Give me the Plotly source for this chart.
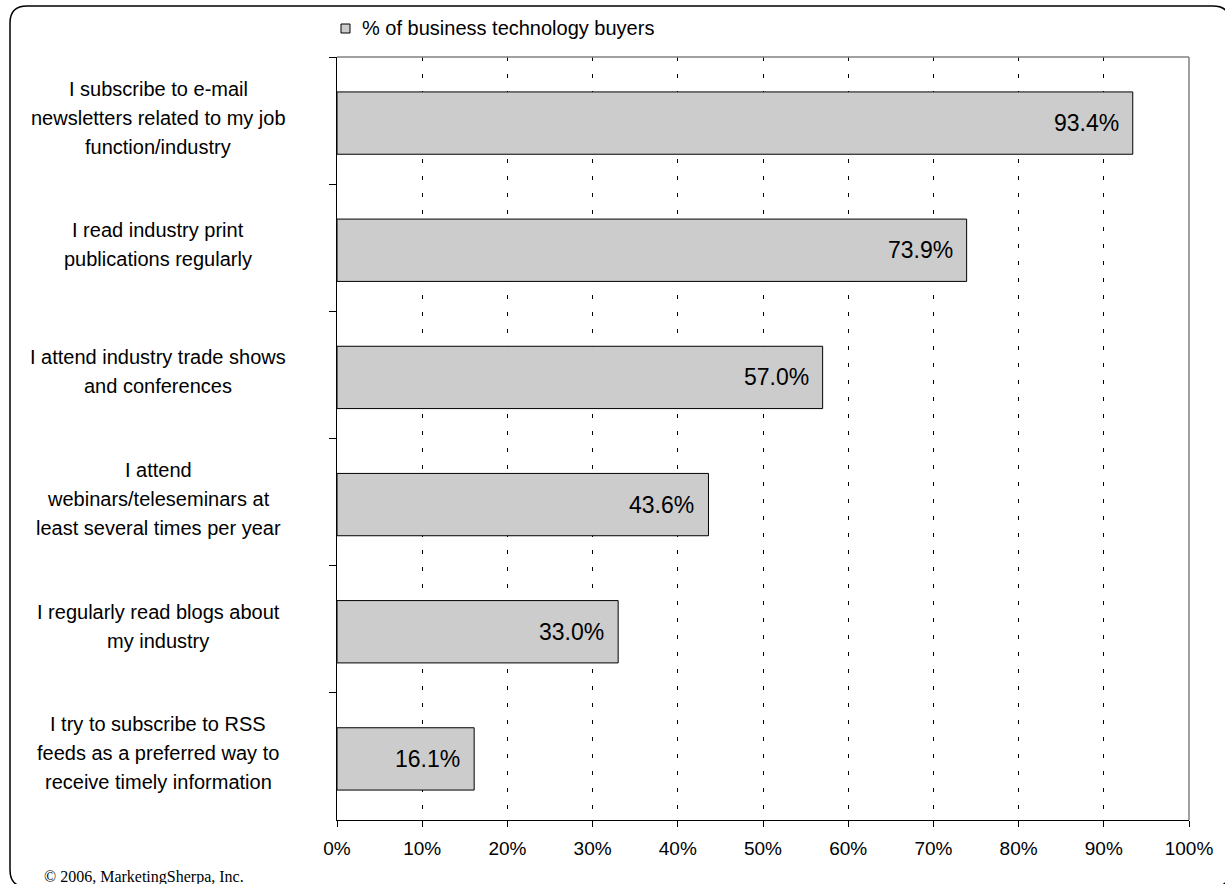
import plotly.graph_objects as go

# Survey answers (top to bottom) and share of respondents, in percent
categories = [
    "I subscribe to e-mail|newsletters related to my job|function/industry",
    "I read industry print|publications regularly",
    "I attend industry trade shows|and conferences",
    "I attend|webinars/teleseminars at|least several times per year",
    "I regularly read blogs about|my industry",
    "I try to subscribe to RSS|feeds as a preferred way to|receive timely information",
]
values = [93.4, 73.9, 57.0, 43.6, 33.0, 16.1]
series_name = "% of business technology buyers"
x_ticks = list(range(0, 101, 10))
credit = "\u00a9 2006, MarketingSherpa, Inc."

W, H = 1225, 884
L, R, T, B = 337, 36, 57, 64
PW, PH = W - L - R, H - T - B
FONT = "Liberation Sans, Arial, sans-serif"


def px(x):
    return (x - L) / PW


def py(y):
    return (H - B - y) / PH


BAR_W = 0.49
SLOT = PH / len(categories)
NUDGE = 2.5  # bars sit slightly below slot centre

fig = go.Figure()
fig.add_trace(go.Bar(
    x=values,
    y=categories,
    orientation="h",
    width=BAR_W,
    offset=-BAR_W / 2 + NUDGE / SLOT,
    marker=dict(color="#cccccc", line=dict(color="#000000", width=1)),
    name=series_name,
    showlegend=False,
    hoverinfo="skip",
))

annotations = []
# value labels inside the bar ends
for c, v in zip(categories, values):
    annotations.append(dict(
        x=v, y=c, xref="x", yref="y", text=f"{v:.1f}%", showarrow=False,
        xanchor="right", yanchor="middle", xshift=-12, yshift=-NUDGE,
        font=dict(family=FONT, size=23, color="#000000"),
    ))

# centred, multi-line category labels
LINE = 29
for c in categories:
    lines = c.split("|")
    n = len(lines)
    for i, ln in enumerate(lines):
        annotations.append(dict(
            x=px(158), y=c, xref="paper", yref="y", text=ln, showarrow=False,
            xanchor="center", yanchor="middle",
            yshift=((n - 1) / 2 - i) * LINE + 3,
            font=dict(family=FONT, size=20, color="#000000"),
        ))

# legend entry
annotations.append(dict(
    x=px(360), y=py(28), xref="paper", yref="paper", text=series_name,
    showarrow=False, xanchor="left", yanchor="middle",
    font=dict(family=FONT, size=20, color="#000000"),
))
# credit line
annotations.append(dict(
    x=px(42), y=py(877), xref="paper", yref="paper", text=credit,
    showarrow=False, xanchor="left", yanchor="middle",
    font=dict(family="Liberation Serif, Times New Roman, serif", size=16, color="#000000"),
))

# rounded outer frame
fl, ft, fr, fb, rad = 10, 6, 1230, 887, 17
path = (
    f"M {px(fl)},{py(ft + rad)} "
    f"Q {px(fl)},{py(ft)} {px(fl + rad)},{py(ft)} "
    f"L {px(fr - rad)},{py(ft)} "
    f"Q {px(fr)},{py(ft)} {px(fr)},{py(ft + rad)} "
    f"L {px(fr)},{py(fb - rad)} "
    f"Q {px(fr)},{py(fb)} {px(fr - rad)},{py(fb)} "
    f"L {px(fl + rad)},{py(fb)} "
    f"Q {px(fl)},{py(fb)} {px(fl)},{py(fb - rad)} Z"
)

shapes = [
    dict(type="path", path=path, xref="paper", yref="paper",
         line=dict(color="#000000", width=1.5), layer="below"),
    # grey plot-area border at top and right
    dict(type="line", xref="paper", yref="paper", x0=0, x1=1, y0=1, y1=1,
         line=dict(color="#808080", width=1.5), layer="above"),
    dict(type="line", xref="paper", yref="paper", x0=1, x1=1, y0=0, y1=1,
         line=dict(color="#808080", width=1.5), layer="above"),
    # legend swatch
    dict(type="rect", xref="paper", yref="paper",
         x0=px(341), x1=px(350), y0=py(33), y1=py(24),
         fillcolor="#cccccc", line=dict(color="#000000", width=1), layer="above"),
]

fig.update_layout(
    width=W, height=H,
    margin=dict(l=L, r=R, t=T, b=B),
    paper_bgcolor="#ffffff", plot_bgcolor="#ffffff",
    showlegend=False,
    annotations=annotations,
    shapes=shapes,
    xaxis=dict(
        range=[0, 100], tickvals=x_ticks, ticktext=[f"{t}%" for t in x_ticks],
        showgrid=True, gridcolor="#000000", gridwidth=1, griddash="4px,13px",
        zeroline=False, showline=True, linecolor="#000000", linewidth=1,
        ticks="outside", ticklen=6, tickcolor="#000000", ticklabelstandoff=5,
        tickfont=dict(family=FONT, size=19, color="#000000"),
        fixedrange=True,
    ),
    yaxis=dict(
        categoryorder="array", categoryarray=categories, autorange="reversed",
        showticklabels=False, showgrid=False, zeroline=False,
        showline=True, linecolor="#000000", linewidth=1,
        ticks="outside", ticklen=7, tickcolor="#000000", tickson="boundaries",
        fixedrange=True,
    ),
)

fig.write_html("out.html")
